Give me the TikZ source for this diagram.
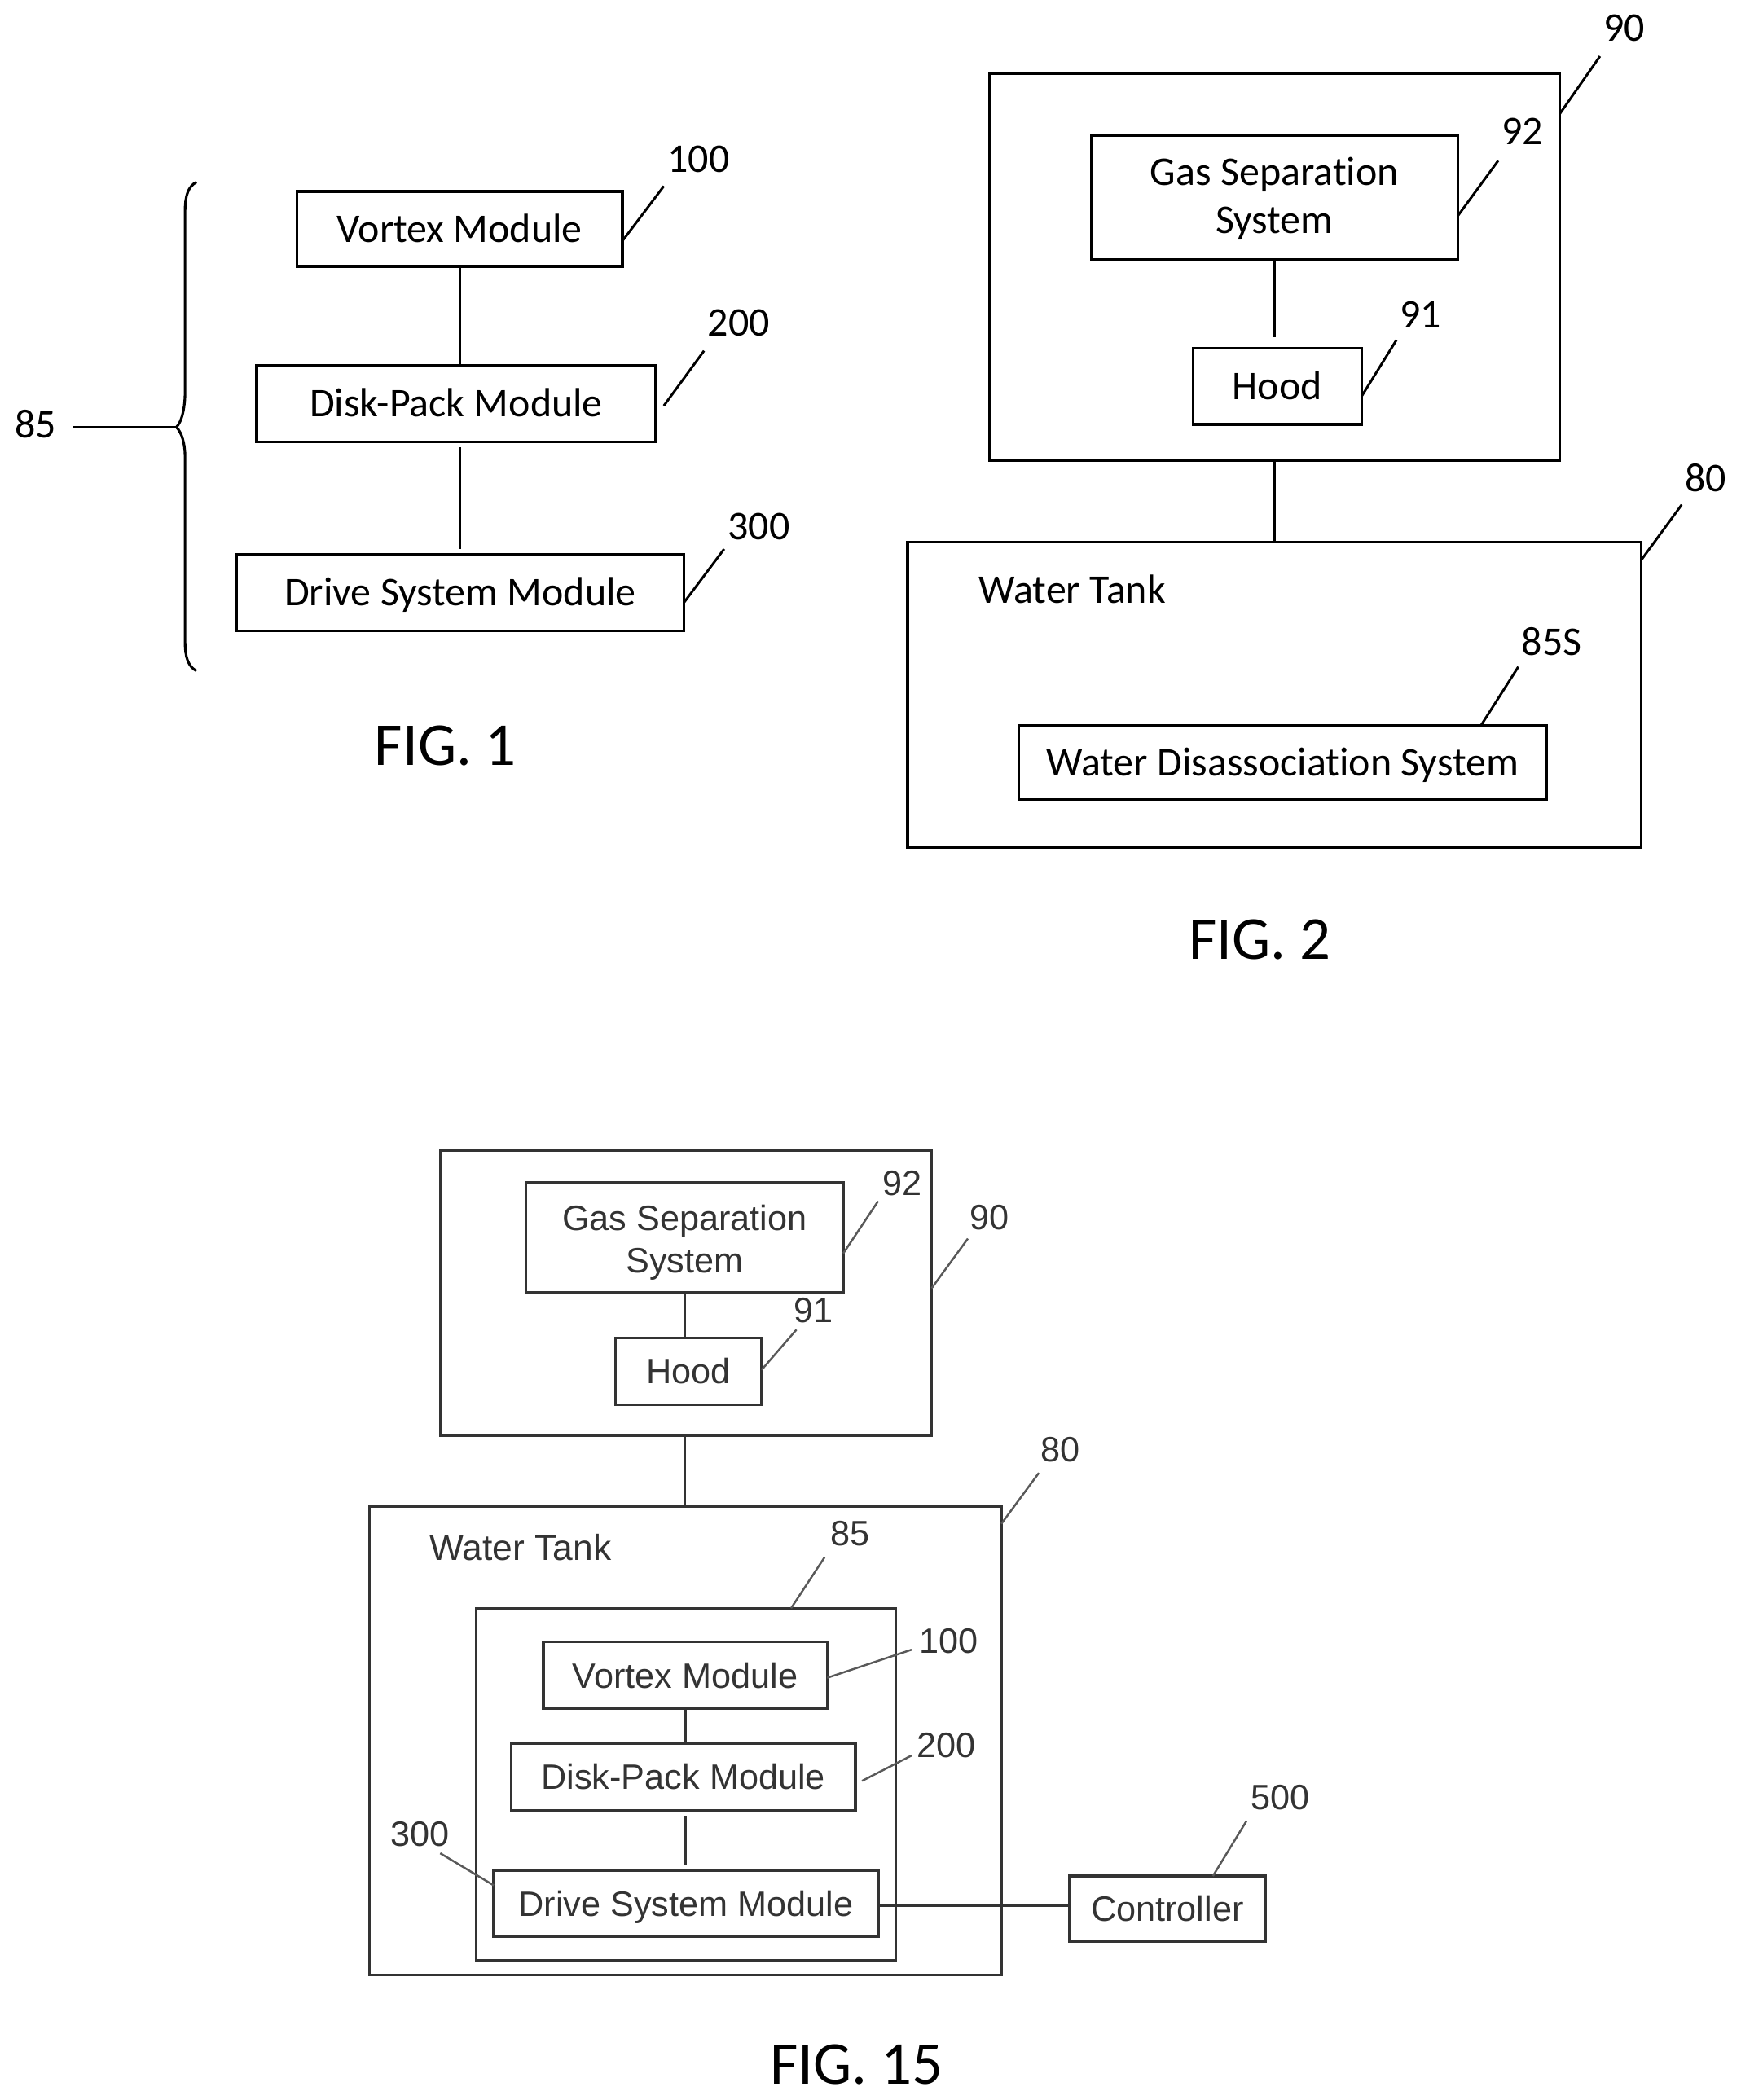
\documentclass[tikz,border=0pt]{standalone}
\usepackage{fontspec}
\setmainfont{Carlito}[Ligatures=NoCommon]
\newfontfamily\arialf{Liberation Sans}
\newcommand\bx[7][]{%
  \pgfmathsetmacro\cxv{(#3+#5)/2}%
  \pgfmathsetmacro\cyv{(#4+#6)/2}%
  \pgfmathsetmacro\wv{#5-#3}%
  \pgfmathsetmacro\hv{#6-#4}%
  \node[#1,minimum width=\wv pt,minimum height=\hv pt] (#2) at (\cxv,\cyv) {#7};}
\newcommand\toptxt[1]{\raisebox{-.32em}[0pt][0pt]{#1}}
\newcommand\lowtxt[1]{\raisebox{-.36em}[0pt][0pt]{#1}}
\tikzset{
  topbox/.style={draw=black,line width=2pt,inner sep=0pt,outer sep=0pt,rectangle,align=center,font=\fontsize{30.4}{36}\selectfont},
  lowbox/.style={draw=black!80,line width=2pt,inner sep=0pt,outer sep=0pt,rectangle,align=center,text=black!80,font=\arialf\fontsize{26.3}{32}\selectfont},
  toplab/.style={inner sep=0pt,font=\fontsize{30.4}{36}\selectfont},
  lowlab/.style={inner sep=0pt,text=black!80,font=\arialf\fontsize{26.3}{32}\selectfont},
  figlab/.style={inner sep=0pt,font=\fontsize{45.5}{54}\selectfont},
  topline/.style={draw=black,line width=2pt},
  lowline/.style={draw=black!80,line width=2pt},
  toplead/.style={draw=black,line width=1.8pt},
  lowlead/.style={draw=black!65,line width=1.5pt},
}
\begin{document}
\begin{tikzpicture}[x=1pt,y=-1pt]
\path[use as bounding box,fill=white] (-0.7,0) rectangle (1299.3,1568.3);

% FIG. 1
\bx[topbox]{av}{221}{143}{464}{199}{\toptxt{Vortex Module}}
\bx[topbox]{ad}{191}{273}{489}{330}{\toptxt{Disk-Pack Module}}
\bx[topbox]{as}{176}{414}{510}{471}{\toptxt{Drive System Module}}
\draw[topline] (av.south) -- (av.south |- ad.north);
\draw[topline,shorten <=4pt,shorten >=4pt] (av.south |- ad.south) -- (av.south |- as.north);
\node[toplab] (l100a) at (521,119) {100};
\node[toplab] (l200a) at (551,241) {200};
\node[toplab] (l300a) at (566,393) {300};
\node[toplab] (l85a) at (26,317) {85};
\coordinate (e100a) at (495,139);
\coordinate (e200a) at (525,262);
\coordinate (e300a) at (540,410);
\coordinate (braceTip) at (131,319);
\draw[toplead] ([xshift=28pt,yshift=-2pt]l85a.center) -- (braceTip);
\draw[toplead] ([yshift=-9pt]av.east) -- (e100a);
\draw[toplead] ([shift={(6pt,-1.5pt)}]ad.east) -- (e200a);
\draw[toplead] ([yshift=-7.5pt]as.east) -- (e300a);
\draw[line width=1.9pt] (146,136) .. controls (140,139) and (137.5,146) .. (137.5,157)
  -- (137.5,292) .. controls (137.5,305) and (135,315) .. (braceTip)
  .. controls (135,323) and (137.5,331) .. (137.5,342)
  -- (137.5,480) .. controls (137.5,491) and (140,498) .. (146,501);
\node[figlab] (f1) at (332,557) {FIG. 1};

% FIG. 2
\bx[topbox]{b90}{738}{55}{1164}{344}{}
\bx[topbox]{bg}{814}{101}{1088}{194}{\rule{0pt}{22.5pt}Gas Separation\\System}
\bx[topbox]{bh}{890}{260}{1016}{317}{\toptxt{Hood}}
\bx[topbox]{bt}{677}{405}{1225}{633}{}
\bx[topbox]{bw}{760}{542}{1154}{597}{\toptxt{Water Disassociation System}}
\node[toplab] (btl) at (800,440) {Water Tank};
\draw[topline,shorten >=8pt] (bg.south) -- (bg.south |- bh.north);
\draw[topline] (b90.south) -- (b90.south |- bt.north);
\node[toplab] (l92b) at (1136,98) {92};
\node[toplab] (l91b) at (1060,235) {91};
\node[toplab] (l90b) at (1212,21) {90};
\node[toplab] (l80b) at (1273,357) {80};
\node[toplab] (l85b) at (1158,479) {85S};
\coordinate (e92b) at (1118,120);
\coordinate (e91b) at (1042,254);
\coordinate (e90b) at (1194,42);
\coordinate (e80b) at (1255,377);
\coordinate (e85b) at (1133,498);
\draw[toplead] ([yshift=-13.5pt]bg.east) -- (e92b);
\draw[toplead] ([yshift=-7.5pt]bh.east) -- (e91b);
\draw[toplead] ([yshift=114.5pt]b90.east) -- (e90b);
\draw[toplead] ([yshift=101pt]bt.east) -- (e80b);
\draw[toplead] ([xshift=148pt]bw.north) -- (e85b);
\node[figlab] (f2) at (940,702) {FIG. 2};

% FIG. 15
\bx[lowbox]{c90}{328}{859}{695}{1072}{}
\bx[lowbox]{cg}{392}{883}{629}{965}{\rule{0pt}{27pt}Gas Separation\\System}
\bx[lowbox]{ch}{459}{999}{568}{1049}{\lowtxt{Hood}}
\bx[lowbox]{ct}{275}{1125}{747}{1475}{}
\bx[lowbox]{c85}{355}{1201}{668}{1464}{}
\bx[lowbox]{cv}{405}{1226}{617}{1276}{\lowtxt{Vortex Module}}
\bx[lowbox]{cd}{381}{1302}{638}{1352}{\lowtxt{Disk-Pack Module}}
\bx[lowbox]{cs}{368}{1397}{655}{1446}{\lowtxt{Drive System Module}}
\bx[lowbox]{cc}{798}{1401}{944}{1450}{\lowtxt{Controller}}
\node[lowlab,font=\arialf\fontsize{27}{32}\selectfont] (ctl) at (388,1155.5) {Water Tank};
\draw[lowline] (cg.south) -- (cg.south |- ch.north);
\draw[lowline] (cg.south |- c90.south) -- (cg.south |- ct.north);
\draw[lowline] (cv.south) -- (cv.south |- cd.north);
\draw[lowline,shorten <=4pt,shorten >=4pt] (cv.south |- cd.south) -- (cv.south |- cs.north);
\draw[lowline] ([yshift=-1.5pt]cs.east) -- ([yshift=-1.5pt]cs.east -| cc.west);
\node[lowlab] (l92c) at (673,883.5) {92};
\node[lowlab] (l91c) at (607,978.5) {91};
\node[lowlab] (l90c) at (738,909.5) {90};
\node[lowlab] (l80c) at (791,1082.5) {80};
\node[lowlab] (l85c) at (634,1145.5) {85};
\node[lowlab] (l100c) at (707.5,1225.5) {100};
\node[lowlab] (l200c) at (706,1303.5) {200};
\node[lowlab] (l300c) at (313,1369.5) {300};
\node[lowlab] (l500c) at (955.5,1342.5) {500};
\coordinate (e92c) at (655,897);
\coordinate (e91c) at (594,993);
\coordinate (e90c) at (722,925);
\coordinate (e80c) at (775,1100);
\coordinate (e85c) at (615,1163);
\coordinate (e100c) at (680,1232);
\coordinate (e200c) at (680,1311);
\coordinate (e300c) at (328,1384);
\coordinate (e500c) at (930,1360);
\draw[lowlead] ([yshift=-12pt]cg.east) -- (e92c);
\draw[lowlead] ([yshift=1pt]ch.east) -- (e91c);
\draw[lowlead] ([yshift=3.5pt]c90.east) -- (e90c);
\draw[lowlead] ([yshift=162pt]ct.east) -- (e80c);
\draw[lowlead] ([xshift=78.5pt]c85.north) -- (e85c);
\draw[lowlead] ([yshift=-2pt]cv.east) -- (e100c);
\draw[lowlead] ([shift={(5pt,-3pt)}]cd.east) -- (e200c);
\draw[lowlead] ([yshift=13.5pt]cs.west) -- (e300c);
\draw[lowlead] ([xshift=34pt]cc.north) -- (e500c);
\node[figlab] (f15) at (639,1542) {FIG. 15};
\end{tikzpicture}
\end{document}
